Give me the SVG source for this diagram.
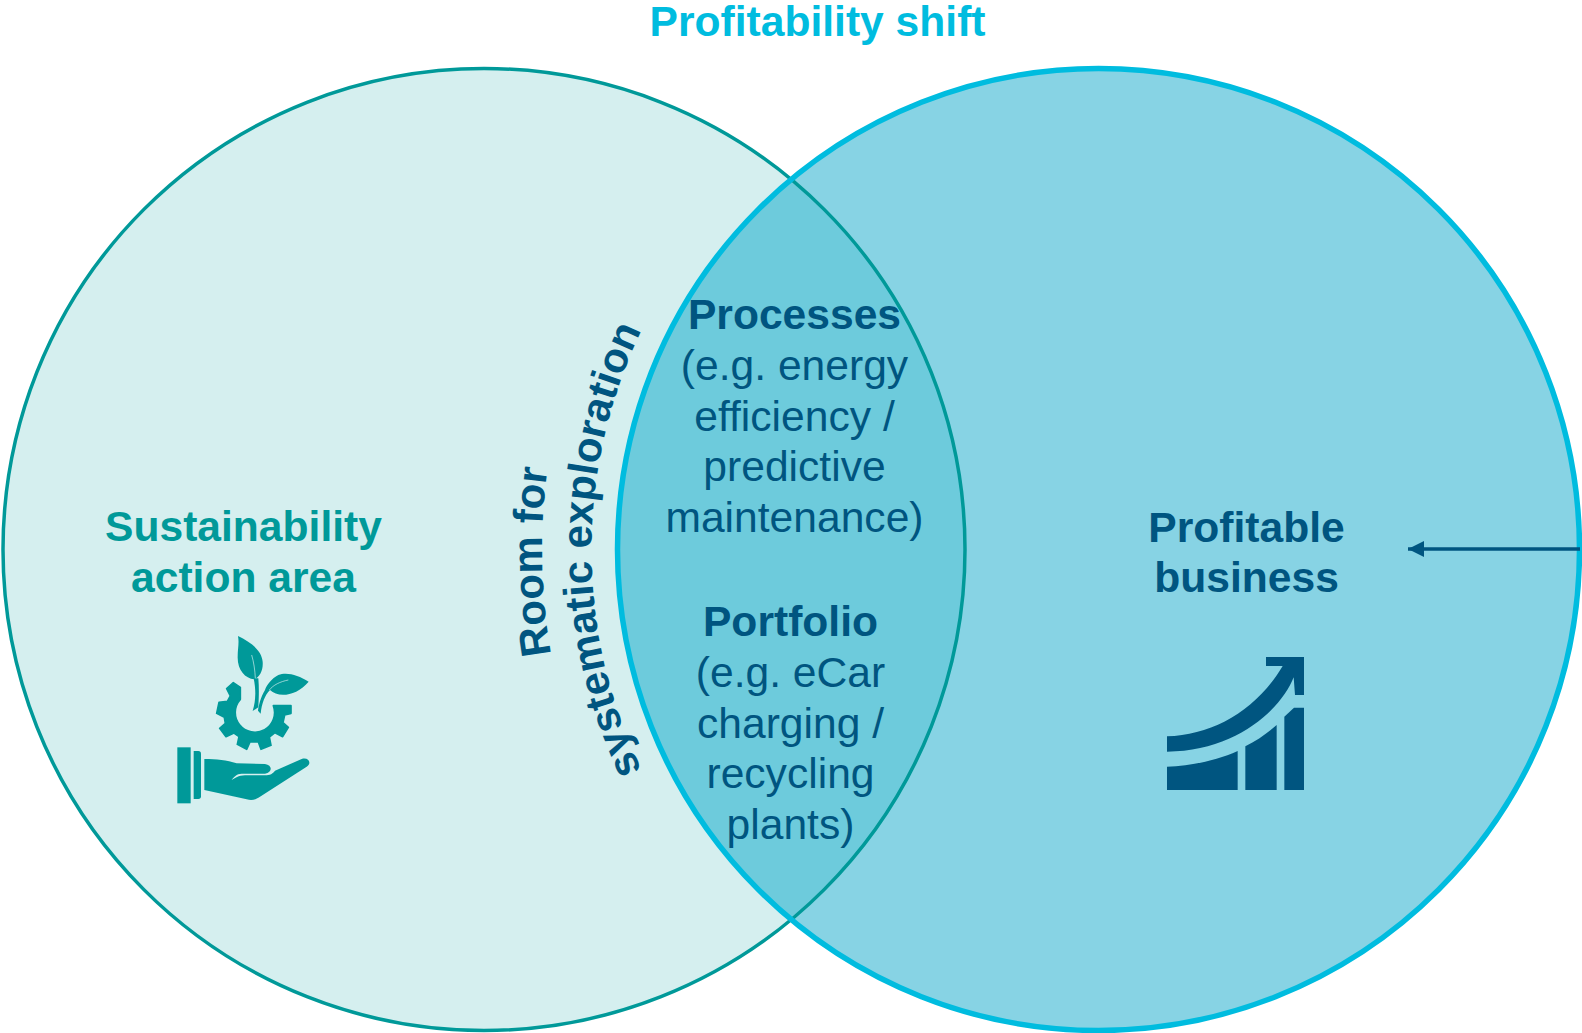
<svg xmlns="http://www.w3.org/2000/svg" width="1582" height="1033" viewBox="0 0 1582 1033">
<style>
text{font-family:"Liberation Sans",Arial,sans-serif;font-size:42.6px;text-anchor:middle}
.b{font-weight:700}
.arc{font-size:42px}
.navy{fill:#005580}
.teal{fill:#009999}
.cy{fill:#00bcdf}
.vein{fill:none;stroke:#d5efef;stroke-width:2}
</style>
<defs>
<clipPath id="inRight"><circle cx="1098.5" cy="549.5" r="481"/></clipPath>
<path id="arcSys" d="M692,853 A507,507 0 0 1 692,247"/>
<path id="arcRoom" d="M634.5,870 A600,600 0 0 1 622.4,250"/>
<marker id="head" markerUnits="userSpaceOnUse" markerWidth="16" markerHeight="16" refX="16" refY="8" orient="auto-start-reverse"><path d="M0,0L16,8L0,16Z" fill="#005580"/></marker>
</defs>
<rect width="1582" height="1033" fill="#fff"/>
<g id="node-left"><circle cx="484" cy="549.5" r="481" fill="#d5efef" stroke="#009999" stroke-width="3.5"/></g>
<g id="node-right"><circle cx="1098.5" cy="549.5" r="481" fill="#87d3e4"/></g>
<g id="node-overlap">
<circle cx="484" cy="549.5" r="481" fill="#6dcbdc" stroke="#009999" stroke-width="3.5" clip-path="url(#inRight)"/>
<circle cx="1098.5" cy="549.5" r="481" fill="none" stroke="#00bcdf" stroke-width="5.5"/>
<text class="b navy" x="794.5" y="329">Processes</text>
<text class="navy" x="794.5" y="379.5">(e.g. energy</text>
<text class="navy" x="794.5" y="430.5">efficiency /</text>
<text class="navy" x="794.5" y="480.5">predictive</text>
<text class="navy" x="794.5" y="531.5">maintenance)</text>
<text class="b navy" x="790.5" y="636">Portfolio</text>
<text class="navy" x="790.5" y="687">(e.g. eCar</text>
<text class="navy" x="790.5" y="737.5">charging /</text>
<text class="navy" x="790.5" y="788">recycling</text>
<text class="navy" x="790.5" y="838.5">plants)</text>
</g>
<g id="node-title"><text class="b cy" x="817.5" y="36">Profitability shift</text></g>
<g id="node-exploration">
<text class="b navy arc"><textPath href="#arcRoom" startOffset="50%">Room for</textPath></text>
<text class="b navy arc"><textPath href="#arcSys" startOffset="50%">systematic exploration</textPath></text>
</g>
<g id="node-sustainability">
<text class="b teal" x="243.5" y="541">Sustainability</text>
<text class="b teal" x="243.5" y="592">action area</text>
<g transform="translate(150,610) scale(.33333)" class="teal">
<path stroke="#009999" stroke-width="5" stroke-linejoin="round" d="M423,287L370,287A59,59 0 1 1 271,268L271,232L250,218L230,236L241,258L232,274L207,277L200,310L223,322L226,340L209,355L228,380L252,369L267,380L262,403L290,418L300,396L325,396L333,418L363,406L358,381L375,368L398,380L415,352L399,338L404,315L423,310Z"/>
<path d="M264,78C300,95 335,120 338,155C340,180 330,200 313,208C285,205 262,180 263,140C263,115 268,100 264,78Z"/>
<path d="M311,205L325,205C328,240 326,270 325,292L308,303C318,270 318,240 311,205Z"/>
<path d="M476,215C445,195 410,185 385,195C365,205 350,225 345,240C332,260 325,290 324,302L332,311C335,280 345,255 360,240C385,265 440,258 476,215Z"/>
<path class="vein" d="M415,210C390,215 370,225 358,240"/>
<path class="vein" d="M305,135C311,155 315,180 316,205"/>
<rect x="82" y="412" width="40" height="168"/>
<path d="M131,423L145,423Q153,423 153,431L153,559Q153,567 145,567L131,567Z"/>
<path d="M163,447C200,447 230,450 260,460L345,462C368,465 368,488 345,491L275,491C260,491 250,502 245,510C255,505 265,496 285,496L340,496C355,496 365,495 375,482L455,447C475,440 487,460 470,470L330,560C315,570 305,572 290,568L163,540Z"/>
</g>
</g>
<g id="node-profitable">
<text class="b navy" x="1246.5" y="542">Profitable</text>
<text class="b navy" x="1246.5" y="592">business</text>
<g transform="translate(1140,640) scale(.33333)" class="navy">
<path d="M378,51L492,51L492,165L465,165L461,112C425,205 290,335 81,335L81,289C220,285 350,210 428,78L378,78Z"/>
<path d="M81,380C150,378 230,362 293,333L293,450L81,450Z"/>
<path d="M316,319C350,302 382,280 410,255L410,450L316,450Z"/>
<path d="M433,230L462,203L492,203L492,450L433,450Z"/>
</g>
</g>
<g id="connectors"><line x1="1580" y1="549" x2="1408" y2="549" stroke="#005580" stroke-width="3.5" marker-end="url(#head)"/></g>
</svg>
